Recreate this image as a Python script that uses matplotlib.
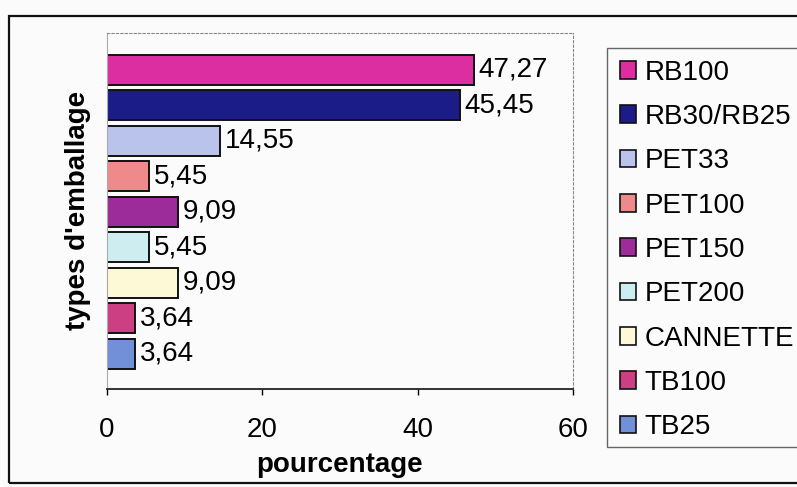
import matplotlib
matplotlib.use("Agg")
import matplotlib.pyplot as plt
from matplotlib.patches import Patch, Rectangle

plt.rcParams['font.family'] = ['Liberation Sans', 'DejaVu Sans']

# packaging types, top to bottom as in the legend
types = ["RB100", "RB30/RB25", "PET33", "PET100", "PET150",
         "PET200", "CANNETTE", "TB100", "TB25"]
pct = [47.27, 45.45, 14.55, 5.45, 9.09, 5.45, 9.09, 3.64, 3.64]
colors = ["#dc2ea0", "#1c1c88", "#b9c3eb", "#ee8a8c", "#9c2c9a",
          "#cdedf1", "#fdf9d6", "#cc3f82", "#7290d8"]
xticks = [0, 20, 40, 60]

fig = plt.figure(figsize=(7.97, 4.87), dpi=100)
fig.patch.set_facecolor("#fbfbfb")
ax = fig.add_axes([107/797, 1-389/487, 466/797, 356/487])
ax.set_facecolor("#fbfbfb")

n = len(types)
ypos = [n - 1 - i for i in range(n)]
ax.barh(ypos, pct, height=0.85, color=colors, edgecolor="#111111", linewidth=1.4)
for y, v in zip(ypos, pct):
    ax.text(v + 0.6, y, f"{v:.2f}".replace(".", ","), va="center", ha="left", fontsize=20)

ax.set_xlim(0, 60)
ax.set_ylim(-0.99, n - 1 + 1.04)
ax.set_xticks(xticks)
ax.set_xticklabels([str(t) for t in xticks], fontsize=20)
ax.tick_params(axis="x", direction="out", length=4, width=1, pad=16)
ax.set_yticks([])

ax.spines["bottom"].set_color("#222222")
ax.spines["bottom"].set_linewidth(1.3)
ax.spines["left"].set_color("#aaaaaa")
for s in ["top", "right"]:
    ax.spines[s].set_color("#888888")
    ax.spines[s].set_linestyle((0, (2, 2)))
    ax.spines[s].set_linewidth(0.8)

fig.text(340/797, 1-465/487, "pourcentage", ha="center", va="center",
         fontsize=20, fontweight="bold")
fig.text(78/797, 1-210/487, "types d'emballage", ha="center", va="center",
         rotation=90, fontsize=20, fontweight="bold")

# legend box runs past the right edge, so the frame is drawn separately
fig.patches.append(Rectangle((607/797, 1-447/487), 0.5, 399/487, transform=fig.transFigure,
                             facecolor="#fbfbfb", edgecolor="#666666", linewidth=1))
handles = [Patch(facecolor=c, edgecolor="#111111", linewidth=1.2) for c in colors]
leg = fig.legend(handles, types, loc="upper left", bbox_to_anchor=(614/797, 1-54/487),
                 fontsize=20, frameon=False, handlelength=0.6,
                 handleheight=0.6, handletextpad=0.3, labelspacing=0.66,
                 borderpad=0.2, borderaxespad=0)

# outer chart frame, running off the right edge
fig.patches.append(Rectangle((9/797, 1-483/487), 1.2, 467/487, transform=fig.transFigure,
                             fill=False, edgecolor="#111111", linewidth=1.6))

fig.savefig("out.png", dpi=100, facecolor=fig.get_facecolor())
